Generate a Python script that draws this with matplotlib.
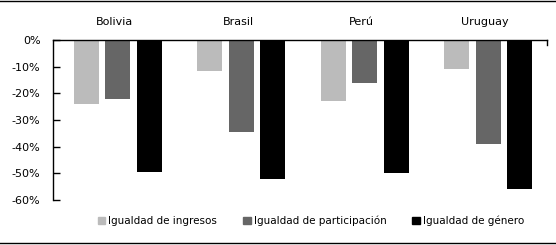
import matplotlib.pyplot as plt
from matplotlib.lines import Line2D
from matplotlib.patches import Patch
import numpy as np

paises = ["Bolivia", "Brasil", "Perú", "Uruguay"]
series = ["Igualdad de ingresos", "Igualdad de participación", "Igualdad de género"]
ingresos = [-24, -11.5, -23, -11]
participacion = [-22, -34.5, -16, -39]
genero = [-49.5, -52, -50, -56]
colores = ["#bbbbbb", "#666666", "#000000"]
yticks = [0, -10, -20, -30, -40, -50, -60]

plt.rcParams['font.family'] = 'DejaVu Sans'
fig = plt.figure(figsize=(5.56, 2.45), dpi=100)
ax = fig.add_axes([53/556, 1-200/245, 494/556, 160/245])

x = np.arange(len(paises))
w = 0.2
paso = 0.255
for i, (vals, c) in enumerate(zip([ingresos, participacion, genero], colores)):
    ax.bar(x + 0.025 + (i-1)*paso, vals, width=w, color=c, label=series[i])

ax.set_xlim(-0.5, 3.5)
ax.set_ylim(-60, 0)
ax.set_yticks(yticks)
ax.set_yticklabels([f"{v}%" for v in yticks], fontsize=8)
ax.tick_params(axis='y', direction='in', length=5, width=1, pad=9)
ax.set_xticks([])
ax.spines['right'].set_visible(False)
ax.spines['bottom'].set_visible(False)
ax.spines['left'].set_linewidth(1)
ax.spines['top'].set_linewidth(1)
ax.plot([1, 1], [1, 0.97], transform=ax.transAxes, color='black', lw=1, clip_on=False)

for i, p in enumerate(paises):
    ax.text(i, 1.115, p, transform=ax.get_xaxis_transform(), ha='center', va='center', fontsize=8)

handles = [Patch(color=c) for c in colores]
fig.legend(handles, series, loc='center', bbox_to_anchor=(311/556, 1-221/245), ncol=3,
           frameon=False, fontsize=7.5, handlelength=0.7, handleheight=0.7,
           handletextpad=0.3, columnspacing=2.5)

fig.add_artist(Line2D([0, 1], [1-1.5/245, 1-1.5/245], color='black', lw=1))
fig.add_artist(Line2D([0, 1], [1-243/245, 1-243/245], color='black', lw=1))

fig.savefig("out.png", dpi=100)
